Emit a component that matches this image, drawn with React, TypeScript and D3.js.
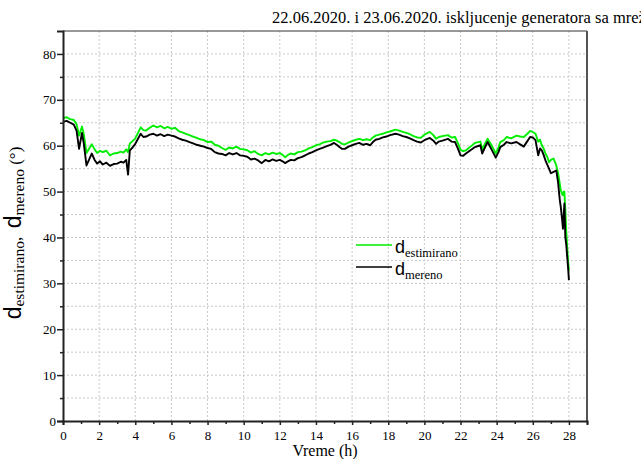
import React, { useEffect, useRef } from 'react';
import * as d3 from 'd3';

// vreme (h)
const hours = [
  0, 0.2, 0.4, 0.6, 0.75, 0.89, 1.05, 1.15, 1.3, 1.45,
  1.59, 1.75, 1.89, 2.05, 2.2, 2.4, 2.6, 2.8, 3.0, 3.2,
  3.35, 3.5, 3.6, 3.7, 3.85, 4.0, 4.15, 4.3, 4.45, 4.6,
  4.8, 5.0, 5.2, 5.4, 5.6, 5.8, 6.0, 6.2, 6.4, 6.6,
  6.8, 7.0, 7.2, 7.4, 7.6, 7.8, 8.0, 8.2, 8.4, 8.6,
  8.8, 9.0, 9.2, 9.4, 9.6, 9.8, 10.0, 10.2, 10.4, 10.6,
  10.8, 11.0, 11.2, 11.4, 11.6, 11.8, 12.0, 12.15, 12.3, 12.45,
  12.6, 12.8, 13.0, 13.2, 13.4, 13.6, 13.8, 14.0, 14.2, 14.4,
  14.6, 14.8, 15.0, 15.15, 15.3, 15.45, 15.6, 15.8, 16.0, 16.2,
  16.4, 16.6, 16.8, 17.0, 17.15, 17.3, 17.5, 17.7, 17.9, 18.1,
  18.4, 18.6, 18.8, 19.0, 19.2, 19.4, 19.6, 19.8, 20.0, 20.3,
  20.5, 20.65, 20.8, 21.0, 21.3, 21.5, 21.7, 21.85, 22.0, 22.15,
  22.3, 22.55, 22.8, 23.1, 23.2, 23.35, 23.5, 23.7, 23.95, 24.1,
  24.2, 24.4, 24.55, 24.8, 25.1, 25.3, 25.5, 25.7, 25.85, 26.0,
  26.15, 26.3, 26.4, 26.5, 26.6, 26.7, 26.8, 26.9, 27.0, 27.15,
  27.3, 27.4, 27.45, 27.5, 27.55, 27.62, 27.67, 27.72, 27.75, 27.8,
  27.85, 27.9, 27.95, 28.0,
];

// d estimirano (deg)
const estimirano = [
  66.0, 66.2, 65.8, 65.6, 64.7, 62.2, 64.2, 62.5, 58.4, 59.4,
  60.3, 59.2, 58.4, 58.9, 58.6, 58.9, 57.9, 58.3, 58.4, 58.7,
  58.5, 59.2, 58.6, 60.5, 61.0, 61.6, 62.8, 64.0, 63.4, 63.3,
  63.9, 64.4, 64.0, 64.3, 63.8, 64.1, 63.7, 63.9, 63.2, 62.9,
  62.6, 62.3, 62.0, 61.7, 61.4, 61.2, 60.8, 60.9, 60.2, 60.0,
  59.5, 59.1, 59.6, 59.4, 59.8, 59.3, 59.2, 59.0, 58.5, 58.8,
  58.2, 57.9, 58.4, 58.1, 58.5, 58.2, 58.4, 58.0, 57.5, 58.0,
  58.3, 58.1, 58.6, 58.7, 59.0, 59.4, 59.7, 60.1, 60.3, 60.7,
  60.9, 61.0, 61.3, 61.1, 60.8, 60.4, 60.3, 60.7, 61.0, 61.3,
  61.5, 61.2, 61.4, 61.2, 61.8, 62.2, 62.4, 62.6, 62.9, 63.1,
  63.5, 63.3, 63.0, 62.8, 62.5, 62.1, 61.8, 61.7, 62.4, 63.0,
  62.3, 61.5, 61.9, 62.1, 62.3, 61.8, 61.9, 60.6, 59.1, 58.8,
  59.0, 59.8, 60.6, 60.9, 59.2, 60.4, 61.5, 60.2, 58.3, 59.6,
  60.8, 61.2, 61.9, 61.6, 62.2, 62.0, 61.9, 62.6, 63.2, 63.0,
  62.6, 60.9, 61.3, 60.1, 59.4, 58.3, 57.6, 56.4, 56.9, 57.2,
  55.7, 54.0, 52.8, 51.5, 50.3, 49.5, 49.2, 50.0, 49.9, 45.9,
  41.5, 38.2, 35.0, 32.8,
];

// d mereno (deg)
const mereno = [
  65.2, 65.4, 65.0, 64.6, 63.3, 59.3, 62.8, 60.5, 55.7, 57.0,
  58.3, 56.9, 56.1, 56.6, 55.9, 56.3, 55.6, 56.0, 56.1, 56.5,
  56.3, 56.9, 53.7, 59.0, 59.6, 60.4, 61.5, 62.6, 61.9, 62.0,
  62.4, 62.6, 62.2, 62.5, 62.1, 62.4, 62.2, 62.0, 61.6, 61.3,
  61.1, 60.8, 60.5, 60.2, 60.0, 59.8, 59.5, 59.3, 58.6, 58.3,
  58.2, 57.9, 58.4, 58.1, 58.4, 57.9, 57.8, 57.6, 57.0, 57.2,
  56.8, 56.2, 56.9, 56.6, 57.0, 56.7, 56.9, 56.6, 56.2, 56.6,
  56.9, 56.8, 57.3, 57.5, 57.9, 58.3, 58.6, 59.0, 59.3, 59.6,
  59.9, 60.2, 60.6, 60.2, 59.7, 59.3, 59.3, 59.8, 60.1, 60.4,
  60.6, 60.2, 60.4, 60.1, 60.8, 61.3, 61.5, 61.8, 62.0, 62.3,
  62.6, 62.4, 62.1, 61.9, 61.6, 61.2, 60.9, 60.7, 61.2, 61.7,
  61.1, 60.4, 60.9, 61.1, 61.5, 60.9, 60.8, 59.4, 57.9, 57.8,
  58.3, 59.0, 59.7, 60.1, 58.3, 59.6, 60.8, 59.3, 57.4, 58.6,
  59.7, 60.2, 60.8, 60.5, 60.8, 60.3, 59.8, 61.0, 61.9, 61.8,
  61.2, 57.9, 59.4, 59.0, 58.0, 56.8, 55.9, 55.0, 54.0, 54.3,
  54.6, 52.0, 49.9, 48.0, 46.6, 44.0, 41.9, 45.5, 47.4, 40.1,
  38.5, 36.0, 33.6, 30.7,
];

const xTicks = [0, 2, 4, 6, 8, 10, 12, 14, 16, 18, 20, 22, 24, 26, 28];
const yTicks = [0, 10, 20, 30, 40, 50, 60, 70, 80];

const title = '22.06.2020. i 23.06.2020. iskljucenje generatora sa mreže';

const SERIF = '"Liberation Serif", "Times New Roman", serif';
const SANS = '"Liberation Sans", Arial, sans-serif';

const App = () => {
  const svgRef = useRef<SVGSVGElement>(null);

  useEffect(() => {
    const w = 641;
    const h = 459;
    const m = { left: 63, right: 587, top: 31, bottom: 421 };
    const svg = d3.select(svgRef.current).attr('width', w).attr('height', h);
    svg.selectAll('*').remove();

    const x = d3.scaleLinear().domain([0, 29]).range([m.left, m.right]);
    const y = d3.scaleLinear().domain([0, 85]).range([m.bottom, m.top]);

    // grid
    const grid = svg.append('g').attr('stroke', '#c8c8c8').attr('stroke-dasharray', '2,2').attr('stroke-width', 1);
    d3.range(2, 29, 2).forEach((v) => {
      grid.append('line').attr('x1', x(v)).attr('x2', x(v)).attr('y1', m.top).attr('y2', m.bottom);
    });
    d3.range(5, 85, 5).forEach((v) => {
      grid.append('line').attr('x1', m.left).attr('x2', m.right).attr('y1', y(v)).attr('y2', y(v));
    });

    // frame top / right
    svg.append('line').attr('x1', m.left).attr('x2', m.right).attr('y1', m.top).attr('y2', m.top)
      .attr('stroke', '#333').attr('stroke-width', 1);
    svg.append('line').attr('x1', m.right).attr('x2', m.right).attr('y1', m.top).attr('y2', m.bottom)
      .attr('stroke', '#555').attr('stroke-width', 2);

    // series
    const line = d3.line<number>()
      .x((d, i) => x(hours[i]))
      .y((d) => y(d));
    svg.append('path').datum(estimirano).attr('d', line).attr('fill', 'none')
      .attr('stroke', '#00ee00').attr('stroke-width', 1.9).attr('stroke-linejoin', 'round');
    svg.append('path').datum(mereno).attr('d', line).attr('fill', 'none')
      .attr('stroke', '#000').attr('stroke-width', 1.9).attr('stroke-linejoin', 'round');

    // axes
    const xAxis = d3.axisBottom(x).tickValues(xTicks).tickSize(4).tickFormat(d3.format('d'));
    const xMinor = d3.axisBottom(x).tickValues(d3.range(1, 30, 2)).tickSize(3).tickFormat(() => '');
    const yAxis = d3.axisLeft(y).tickValues(yTicks).tickSize(6).tickFormat(d3.format('d'));
    const yMinor = d3.axisLeft(y).tickValues(d3.range(5, 85, 10)).tickSize(3).tickFormat(() => '');

    const styleAxis = (g) => {
      g.select('.domain').attr('stroke', '#222').attr('stroke-width', 2);
      g.selectAll('.tick line').attr('stroke', '#222').attr('stroke-width', 1.5);
      g.selectAll('text').attr('font-family', SERIF).attr('font-size', 13).attr('fill', '#000');
    };
    svg.append('g').attr('transform', `translate(0,${m.bottom})`).call(xMinor).call(styleAxis)
      .select('.domain').remove();
    svg.append('g').attr('transform', `translate(0,${m.bottom})`).call(xAxis).call(styleAxis)
      .selectAll('text').attr('dy', '0.9em');
    svg.append('g').attr('transform', `translate(${m.left},0)`).call(yMinor).call(styleAxis)
      .select('.domain').remove();
    svg.append('g').attr('transform', `translate(${m.left},0)`).call(yAxis).call(styleAxis)
      .selectAll('text').attr('x', -7);

    // title
    svg.append('text').attr('x', 272).attr('y', 23)
      .attr('font-family', SERIF).attr('font-size', 16.5).text(title);

    // x label
    svg.append('text').attr('x', 325).attr('y', 456).attr('text-anchor', 'middle')
      .attr('font-family', SERIF).attr('font-size', 16).text('Vreme (h)');

    // y label
    const yl = svg.append('text').attr('transform', 'translate(21,233) rotate(-90)')
      .attr('text-anchor', 'middle').attr('font-family', SERIF).attr('font-size', 17);
    yl.append('tspan').attr('font-family', SANS).attr('font-size', 23).text('d');
    yl.append('tspan').attr('font-size', 15.5).attr('dy', 3).text('estimirano');
    yl.append('tspan').attr('font-size', 17).attr('dy', -3).text(',\u00a0\u00a0');
    yl.append('tspan').attr('font-family', SANS).attr('font-size', 23).text('d');
    yl.append('tspan').attr('font-size', 15.5).attr('dy', 3).text('mereno');
    yl.append('tspan').attr('font-size', 17).attr('dy', -3).text('\u00a0(°)');

    // legend
    const legend = [
      { name: 'estimirano', color: '#00ee00', yy: 245 },
      { name: 'mereno', color: '#000', yy: 267 },
    ];
    legend.forEach((l) => {
      svg.append('line').attr('x1', 356).attr('x2', 392).attr('y1', l.yy).attr('y2', l.yy)
        .attr('stroke', l.color).attr('stroke-width', 1.5);
      const t = svg.append('text').attr('x', 395).attr('y', l.yy + 7.5).attr('font-family', SERIF);
      t.append('tspan').attr('font-family', SANS).attr('font-size', 18).text('d');
      t.append('tspan').attr('font-size', 12.5).attr('dy', 4).text(l.name);
    });
  }, []);

  return (
    <svg ref={svgRef} style={{ position: 'absolute', left: 0, top: 0, display: 'block', background: '#fff' }}></svg>
  );
};

export default App;
